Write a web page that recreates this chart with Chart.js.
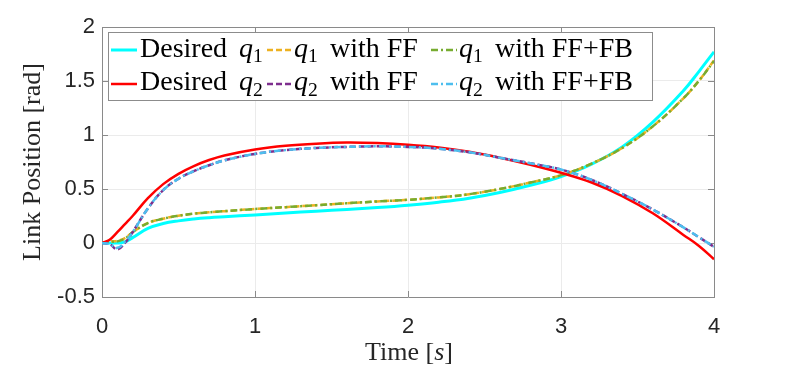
<!DOCTYPE html>
<html>
<head>
<meta charset="utf-8">
<script src="https://cdn.jsdelivr.net/npm/chart.js@4.4.0/dist/chart.umd.min.js"></script>
<style>
  html, body { margin: 0; padding: 0; background: #fff; }
  #wrap { width: 789px; height: 369px; }
</style>
</head>
<body>
<div id="wrap"><canvas id="grafico" width="789" height="369"></canvas></div>
<script>
// ==========================
// Dados
// ==========================
const tempo = [0, 0.05, 0.1, 0.15, 0.2, 0.3, 0.4, 0.5, 0.6, 0.7, 0.8, 1.0, 1.2, 1.4, 1.6, 1.8, 2.0, 2.2, 2.4, 2.6, 2.8, 3.0, 3.2, 3.4, 3.6, 3.8, 3.9, 4.0];

const q1Desejado = [0, 0, 0, 0.01, 0.05, 0.135, 0.18, 0.205, 0.222, 0.234, 0.243, 0.26, 0.278, 0.295, 0.31, 0.328, 0.35, 0.378, 0.415, 0.468, 0.535, 0.615, 0.73, 0.89, 1.12, 1.41, 1.585, 1.77];
const q1FF = [0, 0.015, 0.02, 0.045, 0.10, 0.185, 0.225, 0.252, 0.272, 0.284, 0.295, 0.315, 0.332, 0.35, 0.368, 0.385, 0.40, 0.422, 0.452, 0.50, 0.56, 0.628, 0.735, 0.88, 1.08, 1.34, 1.50, 1.69];
const q1FFFB = [0, 0.01, 0.015, 0.04, 0.10, 0.185, 0.225, 0.252, 0.272, 0.284, 0.295, 0.315, 0.332, 0.35, 0.368, 0.385, 0.40, 0.422, 0.452, 0.50, 0.56, 0.628, 0.735, 0.88, 1.08, 1.34, 1.50, 1.685];

const q2Desejado = [0, 0.03, 0.10, 0.175, 0.25, 0.415, 0.545, 0.64, 0.712, 0.768, 0.81, 0.865, 0.90, 0.92, 0.93, 0.925, 0.91, 0.885, 0.845, 0.79, 0.725, 0.65, 0.56, 0.435, 0.275, 0.075, -0.025, -0.15];
const q2FF = [0, -0.01, -0.06, 0.0, 0.10, 0.32, 0.49, 0.595, 0.665, 0.72, 0.765, 0.825, 0.86, 0.88, 0.89, 0.895, 0.89, 0.873, 0.84, 0.79, 0.738, 0.68, 0.585, 0.455, 0.31, 0.145, 0.055, -0.035];
const q2FFFB = [0, -0.01, -0.045, 0.01, 0.10, 0.32, 0.49, 0.595, 0.665, 0.72, 0.765, 0.825, 0.86, 0.88, 0.89, 0.895, 0.89, 0.873, 0.84, 0.79, 0.738, 0.68, 0.585, 0.455, 0.31, 0.145, 0.055, -0.035];

const ticksX = [0, 1, 2, 3, 4];
const ticksY = [-0.5, 0, 0.5, 1, 1.5, 2];
const rotulosY = ["-0.5", "0", "0.5", "1", "1.5", "2"];

// ==========================
// Séries (estilo + legenda)
// ==========================
const series = [
  { dados: q1Desejado, cor: "#00ffff", largura: 3, traco: [], ordem: 6,
    rotulo: [{ t: "Desired" }, { t: "q", it: true, x: 99 }, { t: "1", sub: true }] },
  { dados: q1FF, cor: "#edb120", largura: 2.5, traco: [6, 3], ordem: 5,
    rotulo: [{ t: "q", it: true }, { t: "1", sub: true }, { t: "with FF", x: 36 }] },
  { dados: q1FFFB, cor: "#77ac30", largura: 2.5, traco: [7, 3, 2, 3], ordem: 4,
    rotulo: [{ t: "q", it: true }, { t: "1", sub: true }, { t: "with FF+FB", x: 36 }] },
  { dados: q2Desejado, cor: "#ff0000", largura: 2.5, traco: [], ordem: 3,
    rotulo: [{ t: "Desired" }, { t: "q", it: true, x: 99 }, { t: "2", sub: true }] },
  { dados: q2FF, cor: "#7e2f8e", largura: 2.5, traco: [6, 3], ordem: 2,
    rotulo: [{ t: "q", it: true }, { t: "2", sub: true }, { t: "with FF", x: 36 }] },
  { dados: q2FFFB, cor: "#4dbeee", largura: 2.5, traco: [7, 3, 2, 3], ordem: 1,
    rotulo: [{ t: "q", it: true }, { t: "2", sub: true }, { t: "with FF+FB", x: 36 }] },
];

const SERIF = '"Liberation Serif", "Times New Roman", serif';

// desenha texto com trechos em itálico / subscrito
function desenharPartes(ctx, partes, x, y, tam, medir) {
  let cx = x;
  partes.forEach((p) => {
    if (p.x !== undefined) cx = x + p.x;
    const t = p.sub ? tam * 0.7 : tam;
    ctx.font = `${p.it ? "italic " : ""}${t}px ${SERIF}`;
    if (!medir) ctx.fillText(p.t, cx, y + (p.sub ? tam * 0.2 : 0));
    cx += ctx.measureText(p.t).width;
  });
  return cx - x;
}

// ==========================
// Plugin: moldura + ticks internos
// ==========================
const moldura = {
  id: "moldura",
  beforeDatasetsDraw(chart) {
    const { ctx, chartArea: a, scales } = chart;
    ctx.save();
    ctx.strokeStyle = "#8a8a8a";
    ctx.lineWidth = 1;
    ctx.beginPath();
    ctx.moveTo(a.left, a.top + 0.5);
    ctx.lineTo(a.right + 0.5, a.top + 0.5);
    ctx.lineTo(a.right + 0.5, a.bottom);
    ticksX.forEach((v) => {
      const px = Math.round(scales.x.getPixelForValue(v)) + 0.5;
      ctx.moveTo(px, a.bottom); ctx.lineTo(px, a.bottom - 6);
      ctx.moveTo(px, a.top); ctx.lineTo(px, a.top + 6);
    });
    ticksY.forEach((v) => {
      const py = Math.round(scales.y.getPixelForValue(v)) + 0.5;
      ctx.moveTo(a.left, py); ctx.lineTo(a.left + 6, py);
      ctx.moveTo(a.right, py); ctx.lineTo(a.right - 6, py);
    });
    ctx.stroke();
    ctx.restore();
  },
};

// ==========================
// Plugin: legenda + títulos dos eixos
// ==========================
const legendaTitulos = {
  id: "legendaTitulos",
  afterDraw(chart) {
    const ctx = chart.ctx;
    ctx.save();

    // caixa da legenda
    ctx.fillStyle = "#fff";
    ctx.fillRect(108.5, 32.5, 544, 68);
    ctx.strokeStyle = "#8c8c8c";
    ctx.lineWidth = 1;
    ctx.strokeRect(108.5, 32.5, 544, 68);

    const colunas = [
      { l0: 111, l1: 137, tx: 140 },
      { l0: 267, l1: 292, tx: 294 },
      { l0: 431, l1: 457, tx: 459 },
    ];
    const linhas = [{ base: 56.5, meio: 50 }, { base: 90, meio: 84 }];

    series.forEach((s, i) => {
      const c = colunas[i % 3];
      const r = linhas[Math.floor(i / 3)];
      ctx.strokeStyle = s.cor;
      ctx.lineWidth = s.largura;
      ctx.setLineDash(s.traco);
      ctx.beginPath();
      ctx.moveTo(c.l0, r.meio);
      ctx.lineTo(c.l1, r.meio);
      ctx.stroke();
      ctx.setLineDash([]);
      ctx.fillStyle = "#000";
      ctx.textAlign = "left";
      ctx.textBaseline = "alphabetic";
      desenharPartes(ctx, s.rotulo, c.tx, r.base, 28);
    });

    // título eixo x
    ctx.fillStyle = "#262626";
    const partesX = [{ t: "Time [" }, { t: "s", it: true }, { t: "]" }];
    const w = desenharPartes(ctx, partesX, 0, 0, 26, true);
    desenharPartes(ctx, partesX, 409 - w / 2, 360, 26);

    // título eixo y
    ctx.translate(40, 162);
    ctx.rotate(-Math.PI / 2);
    ctx.font = `26px ${SERIF}`;
    ctx.textAlign = "center";
    ctx.fillText("Link Position [rad]", 0, 0);

    ctx.restore();
  },
};

// ==========================
// Gráfico
// ==========================
const ctx = document.getElementById("grafico").getContext("2d");
new Chart(ctx, {
  type: "line",
  data: {
    datasets: series.map((s) => ({
      data: tempo.map((t, i) => ({ x: t, y: s.dados[i] })),
      borderColor: s.cor,
      borderWidth: s.largura,
      borderDash: s.traco,
      pointRadius: 0,
      fill: false,
      tension: 0.4,
      order: s.ordem,
    })),
  },
  options: {
    responsive: false,
    animation: false,
    devicePixelRatio: 1,
    layout: { padding: { top: 27, right: 75, left: 0, bottom: 0 } },
    plugins: { legend: { display: false }, tooltip: { enabled: false } },
    scales: {
      x: {
        type: "linear",
        min: 0,
        max: 4,
        afterBuildTicks: (s) => { s.ticks = ticksX.map((v) => ({ value: v })); },
        afterFit: (s) => { s.height = 72; },
        grid: { color: "#ebebeb", drawTicks: false },
        border: { color: "#8a8a8a" },
        ticks: {
          padding: 17,
          color: "#262626",
          maxRotation: 0,
          autoSkip: false,
          font: { family: '"Liberation Sans", Arial, sans-serif', size: 22 },
        },
      },
      y: {
        min: -0.5,
        max: 2,
        afterBuildTicks: (s) => { s.ticks = ticksY.map((v) => ({ value: v })); },
        afterFit: (s) => { s.width = 102; },
        grid: { color: "#ebebeb", drawTicks: false },
        border: { color: "#8a8a8a" },
        ticks: {
          padding: 7,
          color: "#262626",
          callback: (v) => rotulosY[ticksY.indexOf(v)],
          font: { family: '"Liberation Sans", Arial, sans-serif', size: 22 },
        },
      },
    },
  },
  plugins: [moldura, legendaTitulos],
});
</script>
</body>
</html>
